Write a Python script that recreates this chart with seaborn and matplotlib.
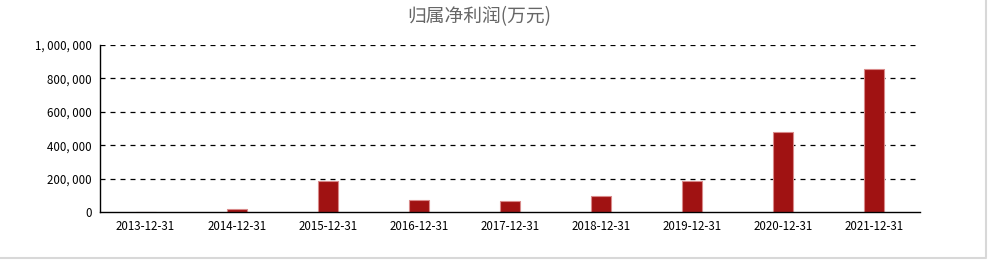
import matplotlib
matplotlib.use("Agg")
import matplotlib.pyplot as plt
import seaborn as sns
import pandas as pd
from matplotlib.ticker import FuncFormatter
from matplotlib.lines import Line2D

dates = ["2013-12-31", "2014-12-31", "2015-12-31", "2016-12-31", "2017-12-31",
         "2018-12-31", "2019-12-31", "2020-12-31", "2021-12-31"]
profit = [500, 18000, 187000, 72000, 66000, 96000, 186000, 479000, 856000]
yticks = [0, 200000, 400000, 600000, 800000, 1000000]

sns.set_theme(style="white")
plt.rcParams['font.family'] = ['Noto Sans CJK SC', 'DejaVu Sans']

df = pd.DataFrame({"date": dates, "profit": profit})

fig = plt.figure(figsize=(9.89, 2.60), dpi=100)
ax = fig.add_axes([100/989, 1-212/260, 820/989, 167/260])
sns.barplot(data=df, x="date", y="profit", ax=ax, color="#a01212",
            width=0.22, edgecolor="#d98a8a", linewidth=0.8, saturation=1)

ax.set_ylim(0, 1000000)
ax.set_xlim(-0.5, len(dates)-0.5)
ax.set_yticks(yticks)
ax.yaxis.set_major_formatter(FuncFormatter(lambda v, p: f"{int(v):,}".replace(",", ", ")))
for y in yticks[1:]:
    ax.axhline(y, color="black", linestyle=(0, (4, 4)), linewidth=0.9, zorder=0)
ax.set_xlabel("")
ax.set_ylabel("")
ax.tick_params(axis="both", length=0, labelsize=8.3, colors="black", pad=6)
for s in ["top", "right"]:
    ax.spines[s].set_visible(False)
for s in ["left", "bottom"]:
    ax.spines[s].set_color("black")
    ax.spines[s].set_linewidth(1.0)

fig.text(479/989, 1-17/260, "归属净利润(万元)", ha="center", va="center", fontsize=13.5, color="#666666")

fig.add_artist(Line2D([985.5/989, 985.5/989], [1-257/260, 1], color="#d8d8d8", linewidth=1.5))
fig.add_artist(Line2D([0, 986/989], [1-257.5/260, 1-257.5/260], color="#d8d8d8", linewidth=1.5))

fig.savefig("out.png", dpi=100)
